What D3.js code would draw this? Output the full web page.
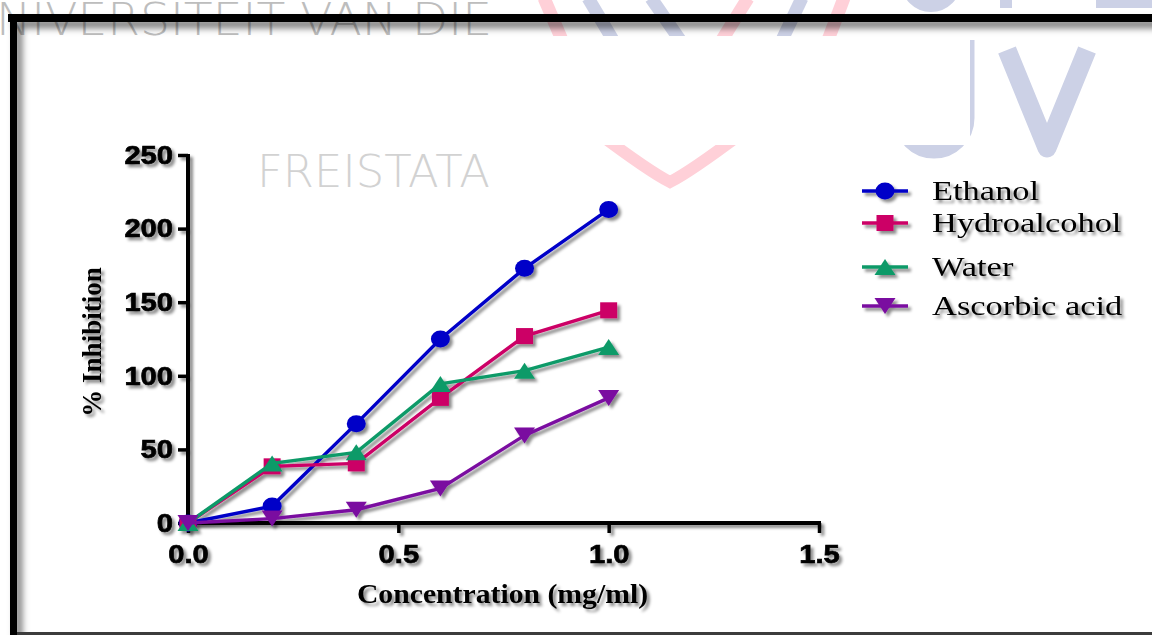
<!DOCTYPE html>
<html><head><meta charset="utf-8">
<script src="https://cdn.jsdelivr.net/npm/d3@7"></script>
<style>html,body{margin:0;padding:0;background:#fff;overflow:hidden}</style>
</head><body>
<svg id="chart" width="1152" height="635"></svg>
<script>
// ---------- data ----------
const concentrations = [0, 0.2, 0.4, 0.6, 0.8, 1.0];
const seriesNames = ["Ethanol", "Hydroalcohol", "Water", "Ascorbic acid"];
const ethanol      = [0, 11.5, 67.5, 125, 173, 213];
const hydroalcohol = [0, 38.5, 40.5, 85, 127, 144.5];
const water        = [0, 40.5, 48, 94.5, 103.5, 119.5];
const ascorbicAcid = [0, 3, 9, 23.5, 59.5, 85];
const xTicks = [0, 0.5, 1.0, 1.5];
const yTicks = [0, 50, 100, 150, 200, 250];
const xTitle = "Concentration (mg/ml)";
const yTitle = "% Inhibition";

// ---------- styles ----------
const colors  = ["#0000c8", "#cc0066", "#0d9a68", "#7a0aa0"];
const shapes  = ["circle", "square", "triangleUp", "triangleDown"];
const legendRows = [191, 223, 267, 306];

const svg = d3.select("#chart");
const defs = svg.append("defs");
const f1 = defs.append("filter").attr("id","sh").attr("x","-20%").attr("y","-20%").attr("width","140%").attr("height","140%");
f1.append("feDropShadow").attr("dx",3).attr("dy",3).attr("stdDeviation",1.8).attr("flood-color","#000").attr("flood-opacity",0.45);
const f2 = defs.append("filter").attr("id","shf").attr("x","-5%").attr("y","-5%").attr("width","110%").attr("height","110%");
f2.append("feDropShadow").attr("dx",5).attr("dy",6).attr("stdDeviation",3.5).attr("flood-color","#000").attr("flood-opacity",0.55);

// ---------- watermark ----------
const clip = defs.append("clipPath").attr("id","wmclip");
[[0,0,1152,36],[0,145,1152,490],[970,0,182,635]].forEach(r=>
  clip.append("rect").attr("x",r[0]).attr("y",r[1]).attr("width",r[2]).attr("height",r[3]));
const wm = svg.append("g").attr("clip-path","url(#wmclip)");
const pink = "#ffd0d8", blue = "#ccd1e6";
wm.append("text").attr("x",-4).attr("y",35).attr("font-family","DejaVu Sans").attr("font-weight",200)
  .attr("font-size",44).attr("fill","#bdbdbd").attr("textLength",496).attr("lengthAdjust","spacingAndGlyphs")
  .text("NIVERSITEIT VAN DIE");
wm.append("text").attr("x",257).attr("y",187).attr("font-family","DejaVu Sans").attr("font-weight",200)
  .attr("font-size",44).attr("fill","#d2d2d2").attr("textLength",233).attr("lengthAdjust","spacingAndGlyphs")
  .text("FREISTATA");
const strokes = [
  [pink, 544,-2, 562,40], [blue, 588,-2, 613,40], [blue, 651,-2, 680,40],
  [pink, 748,-2, 722,40], [blue, 802,-2, 782,40], [pink, 844,-2, 828,40]];
strokes.forEach(s => wm.append("line").attr("x1",s[1]).attr("y1",s[2]).attr("x2",s[3]).attr("y2",s[4])
  .attr("stroke",s[0]).attr("stroke-width",13));
wm.append("path").attr("d","M598,133 Q650,172 670,182 Q690,172 742,133").attr("fill","none").attr("stroke",pink)
  .attr("stroke-width",12).attr("stroke-linecap","round");
wm.append("circle").attr("cx",931).attr("cy",-18).attr("r",24).attr("fill","none").attr("stroke",blue).attr("stroke-width",12);
wm.append("rect").attr("x",1000).attr("y",-2).attr("width",12).attr("height",10).attr("fill",blue);
wm.append("rect").attr("x",1096).attr("y",-2).attr("width",60).attr("height",10).attr("fill",blue);
wm.append("path").attr("d","M903,40 V118 A31 31 0 0 0 965 118 V40").attr("fill","none").attr("stroke",blue).attr("stroke-width",19);
wm.append("path").attr("d","M1007,50 L1047,148 L1087,50").attr("fill","none").attr("stroke",blue)
  .attr("stroke-width",19).attr("stroke-linejoin","round");

// ---------- frame ----------
const frame = svg.append("g").attr("filter","url(#shf)");
frame.append("rect").attr("x",8).attr("y",14).attr("width",1150).attr("height",8).attr("fill","#000");
frame.append("rect").attr("x",10).attr("y",14).attr("width",7).attr("height",630).attr("fill","#000");
svg.append("rect").attr("x",17).attr("y",632).attr("width",1140).attr("height",3).attr("fill","#3c3c3c");

// ---------- scales ----------
const x = d3.scaleLinear().domain([0, 1.5]).range([188, 819]);
const y = d3.scaleLinear().domain([0, 250]).range([523, 155]);

function stretch(sel, k) {
  sel.each(function(){ const w = this.getComputedTextLength();
    d3.select(this).attr("textLength", w*k).attr("lengthAdjust","spacingAndGlyphs"); });
}

// ---------- axes ----------
const axes = svg.append("g").attr("filter","url(#sh)");
const gx = axes.append("g").attr("transform",`translate(0,${y(0)})`)
  .call(d3.axisBottom(x).tickValues(xTicks).tickFormat(d3.format(".1f")).tickSize(10).tickPadding(12));
const gy = axes.append("g").attr("transform",`translate(${x(0)},0)`)
  .call(d3.axisLeft(y).tickValues(yTicks).tickFormat(d3.format("d")).tickSize(10).tickPadding(5));
[gx, gy].forEach(g => {
  g.select(".domain").attr("stroke","#000").attr("stroke-width",4);
  g.selectAll(".tick line").attr("stroke","#000").attr("stroke-width",3.5);
  g.selectAll(".tick text").attr("fill","#000").attr("font-family","Liberation Sans, Arial, sans-serif")
    .attr("font-weight","bold").attr("font-size",26).attr("stroke","#000").attr("stroke-width",0.7)
    .call(stretch, 1.12);
});
gx.select(".domain").attr("d", `M${x(0)},0H${x(1.5)+2}`);
gy.select(".domain").attr("d", `M0,${y(250)-1}V${y(0)+2}`);

axes.append("text").attr("x",(x(0)+x(1.5))/2 - 1).attr("y",603).attr("text-anchor","middle")
  .attr("font-family","Liberation Serif, Times New Roman, serif").attr("font-weight","bold").attr("font-size",27)
  .text(xTitle).call(stretch, 1.1);
axes.append("text").attr("transform","translate(101,342) rotate(-90)").attr("text-anchor","middle")
  .attr("font-family","Liberation Serif, Times New Roman, serif").attr("font-weight","bold").attr("font-size",27)
  .text(yTitle);

// ---------- markers ----------
function markerPath(shape, cx, cy) {
  if (shape === "circle") { const rx = 9.5, ry = 8.5;
    return `M${cx-rx},${cy}A${rx},${ry} 0 1 0 ${cx+rx},${cy}A${rx},${ry} 0 1 0 ${cx-rx},${cy}Z`; }
  if (shape === "square") { const w = 17, h = 16;
    return `M${cx-w/2},${cy-h/2}h${w}v${h}h${-w}Z`; }
  if (shape === "triangleUp") { const w = 21, h = 16;
    return `M${cx},${cy-h/2}L${cx+w/2},${cy+h/2}L${cx-w/2},${cy+h/2}Z`; }
  const w = 21, h = 16;
  return `M${cx-w/2},${cy-h/2}L${cx+w/2},${cy-h/2}L${cx},${cy+h/2}Z`;
}

const allSeries = [ethanol, hydroalcohol, water, ascorbicAcid];
const plot = svg.append("g").attr("filter","url(#sh)");
const line = d3.line().x((d,i)=>x(concentrations[i])).y(d=>y(d));
allSeries.forEach((vals, si) => {
  const g = plot.append("g");
  g.append("path").attr("d", line(vals)).attr("fill","none").attr("stroke",colors[si]).attr("stroke-width",3.4);
  g.selectAll("path.m").data(vals).enter().append("path").attr("class","m")
    .attr("d",(d,i)=>markerPath(shapes[si], x(concentrations[i]), y(d))).attr("fill",colors[si]);
});

// ---------- legend ----------
const leg = svg.append("g").attr("filter","url(#sh)");
seriesNames.forEach((name, si) => {
  const ry = legendRows[si];
  leg.append("line").attr("x1",862).attr("x2",908).attr("y1",ry).attr("y2",ry)
    .attr("stroke",colors[si]).attr("stroke-width",3.4);
  leg.append("path").attr("d",markerPath(shapes[si], 885, ry)).attr("fill",colors[si]);
  leg.append("text").attr("x",932).attr("y",ry+9).attr("font-family","Liberation Serif, Times New Roman, serif")
    .attr("font-size",26.5).attr("fill","#000").text(name).call(stretch, 1.3);
});
</script>
</body></html>
